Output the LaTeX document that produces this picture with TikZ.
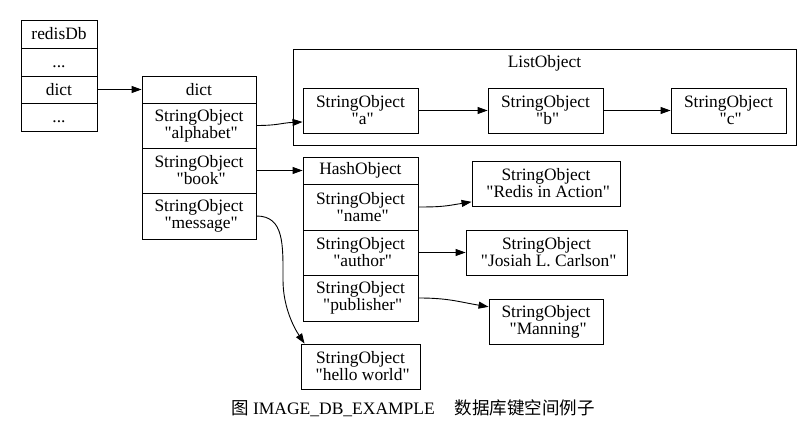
\documentclass[tikz,border=0pt]{standalone}
\usepackage{fontspec}
\setmainfont{Liberation Serif}
\newfontfamily\cjk{Noto Sans CJK SC}
\usetikzlibrary{arrows.meta,calc}
\newcommand\qq[1]{\textquotedbl#1\textquotedbl}
\begin{document}
\begin{tikzpicture}[x=1pt,y=-1pt,
  box/.style={draw,line width=0.9pt,inner sep=0pt,align=center,font=\fontsize{17.4}{17}\selectfont},
  arr/.style={-{Triangle[length=10pt,width=7pt]},line width=0.9pt},
  cluster/.style={draw,line width=0.9pt}]
\useasboundingbox (0,0) rectangle (803,446);
% redisDb
\node[box,minimum width=76,minimum height=28] (r0) at (59,34) {redisDb};
\node[box,minimum width=76,minimum height=28] (r1) at (59,62) {\vphantom{dict}...};
\node[box,minimum width=76,minimum height=27] (r2) at (59,89.5) {dict};
\node[box,minimum width=76,minimum height=28] (r3) at (59,117) {\vphantom{dict}...};
% dict
\node[box,minimum width=114,minimum height=27] (d0) at (199,89.5) {dict};
\node[box,minimum width=114,minimum height=45] (d1) at (199,125.5) {StringObject\\ \ \qq{alphabet}};
\node[box,minimum width=114,minimum height=45] (d2) at (199,170.5) {StringObject\\ \ \qq{book}};
\node[box,minimum width=114,minimum height=46] (d3) at (199,216) {StringObject\\ \ \qq{message}};
% ListObject cluster
\node[cluster,minimum width=503,minimum height=96,inner sep=0pt] (lo) at (544.5,97) {};
\node[font=\fontsize{17.4}{17}\selectfont,inner sep=0pt] (lol) at (544.5,63) {ListObject};
\node[box,minimum width=115,minimum height=45] (la) at (360.5,110.5) {StringObject\\ \ \qq{a}};
\node[box,minimum width=115,minimum height=45] (lb) at (545.5,110.5) {StringObject\\ \ \qq{b}};
\node[box,minimum width=115,minimum height=45] (lc) at (728.5,110.5) {StringObject\\ \ \qq{c}};
% HashObject
\node[box,minimum width=115,minimum height=27] (h0) at (360.5,170.5) {HashObject};
\node[box,minimum width=115,minimum height=46] (h1) at (360.5,207) {StringObject\\ \ \qq{name}};
\node[box,minimum width=115,minimum height=45] (h2) at (360.5,252.5) {StringObject\\ \ \qq{author}};
\node[box,minimum width=115,minimum height=46] (h3) at (360.5,298) {StringObject\\ \ \qq{publisher}};
% values
\node[box,minimum width=148,minimum height=45] (v1) at (546,183.5) {StringObject\\ \ \qq{Redis in Action}};
\node[box,minimum width=161,minimum height=45] (v2) at (546.5,252.5) {StringObject\\ \ \qq{Josiah L. Carlson}};
\node[box,minimum width=114,minimum height=45] (v3) at (546,321.5) {StringObject\\ \ \qq{Manning}};
\node[box,minimum width=119,minimum height=45] (hw) at (360.5,366.5) {StringObject\\ \ \qq{hello world}};
% coordinates
\coordinate (aend) at ($(la.south west)!0.25!(la.north west)$);
\coordinate (hwend) at ($(hw.north west)+(4,0)$);
\coordinate (mmid) at (283,280);
\coordinate (v1end) at ($(v1.south west)!0.1!(v1.north west)$);
\coordinate (v3end) at ($(v3.north west)!0.18!(v3.south west)$);
% edges
\draw[arr] (r2.east) -- (d0.west);
\draw[arr] (d1.east) .. controls +(22,0) and +(-22,1) .. (aend);
\draw[arr] (d2.east) -- (h0.west);
\draw[arr] (d3.east) .. controls +(28,0) and +(0,-35) .. (mmid)
                     .. controls +(0,25) and +(-12,-18) .. (hwend);
\draw[arr] (la.east) -- (lb.west);
\draw[arr] (lb.east) -- (lc.west);
\draw[arr] (h1.east) .. controls +(25,0) and +(-25,4) .. (v1end);
\draw[arr] (h2.east) -- (v2.west);
\draw[arr] (h3.east) .. controls +(30,0) and +(-30,-5) .. (v3end);
% caption
\node[inner sep=0pt,font=\fontsize{17.5}{20}\selectfont] (cap) at (413,408) {{\cjk 图} IMAGE\_DB\_EXAMPLE\hspace{20pt}{\cjk 数据库键空间例子}};
\end{tikzpicture}
\end{document}
